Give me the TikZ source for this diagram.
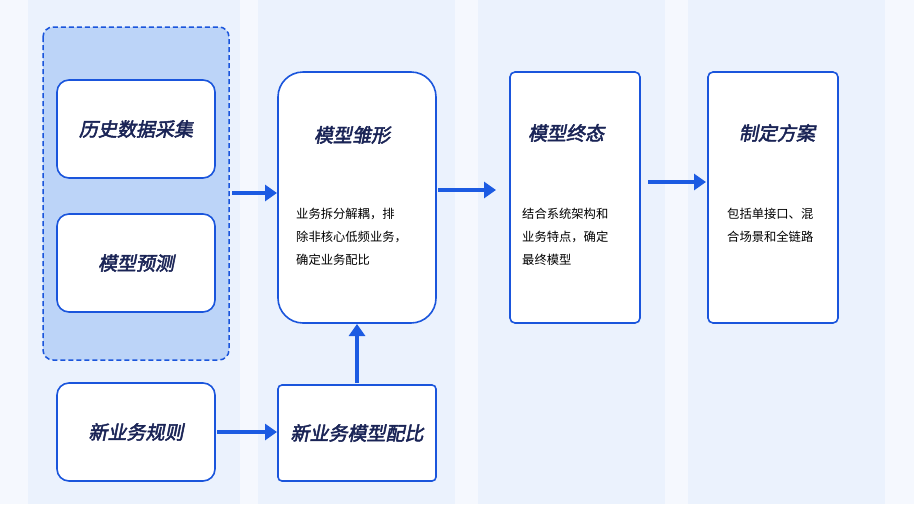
\documentclass[tikz,border=0pt]{standalone}
\usepackage{fontspec}
\newfontfamily\cjk{Noto Sans CJK SC}
\newfontfamily\cjkt[FakeSlant=0.2,FakeBold=2.5]{Noto Sans CJK SC}
\usetikzlibrary{arrows.meta}
\definecolor{bg}{HTML}{F5F8FE}
\definecolor{col}{HTML}{EBF2FD}
\definecolor{bd}{HTML}{1A55DC}
\definecolor{dfill}{HTML}{BCD4F8}
\definecolor{tt}{HTML}{1A2456}
\definecolor{ar}{HTML}{1C5BE2}
\begin{document}
\begin{tikzpicture}[x=1pt,y=-1pt,
  box/.style={draw=bd,line width=1.6pt,fill=white},
  ttl/.style={font=\cjkt\fontsize{19}{22}\selectfont,text=tt},
  body/.style={font=\cjk\fontsize{12.3}{23}\selectfont,align=left,anchor=north west,inner sep=0},
  arr/.style={-{Triangle[length=12pt,width=16pt]},line width=4.5pt,draw=ar}]
\useasboundingbox (0,0) rectangle (914,504);
\fill[bg] (0,0) rectangle (914,504);
\foreach \a/\b in {28/240,258/455,478/665,688/885} \fill[col] (\a,0) rectangle (\b,504);
\draw[dash pattern=on 5pt off 3pt,draw=bd,line width=1.5pt,fill=dfill,rounded corners=10pt] (43,27) rectangle (229,360);
\draw[box,rounded corners=12pt] (57,80) rectangle (215,178);
\node[ttl] (a) at (136,129) {历史数据采集};
\draw[box,rounded corners=12pt] (57,214) rectangle (215,312);
\node[ttl] (b) at (136,263) {模型预测};
\draw[box,rounded corners=12pt] (57,383) rectangle (215,481);
\node[ttl] (c) at (136,432) {新业务规则};
\draw[box,rounded corners=4pt] (278,385) rectangle (436,481);
\node[ttl] (d) at (357,433) {新业务模型配比};
\draw[box,rounded corners=25pt] (278,72) rectangle (436,323);
\node[ttl] (e) at (352,135) {模型雏形};
\node[body] (e1) at (296,208) {业务拆分解耦，排\\除非核心低频业务，\\确定业务配比};
\draw[box,rounded corners=5pt] (510,72) rectangle (640,323);
\node[ttl] (f) at (566,133) {模型终态};
\node[body] (f1) at (522,208) {结合系统架构和\\业务特点，确定\\最终模型};
\draw[box,rounded corners=5pt] (708,72) rectangle (838,323);
\node[ttl] (g) at (777,133) {制定方案};
\node[body] (g1) at (727,208) {包括单接口、混\\合场景和全链路};
\coordinate (p1) at (232,193); \coordinate (p2) at (277,193);
\draw[arr] (p1) -- (p2);
\coordinate (p3) at (438,190); \coordinate (p4) at (496,190);
\draw[arr] (p3) -- (p4);
\coordinate (p5) at (648,182); \coordinate (p6) at (706,182);
\draw[arr] (p5) -- (p6);
\coordinate (p7) at (217,432); \coordinate (p8) at (277,432);
\draw[arr] (p7) -- (p8);
\coordinate (p9) at (357,383); \coordinate (p10) at (357,324);
\draw[arr] (p9) -- (p10);
\end{tikzpicture}
\end{document}
